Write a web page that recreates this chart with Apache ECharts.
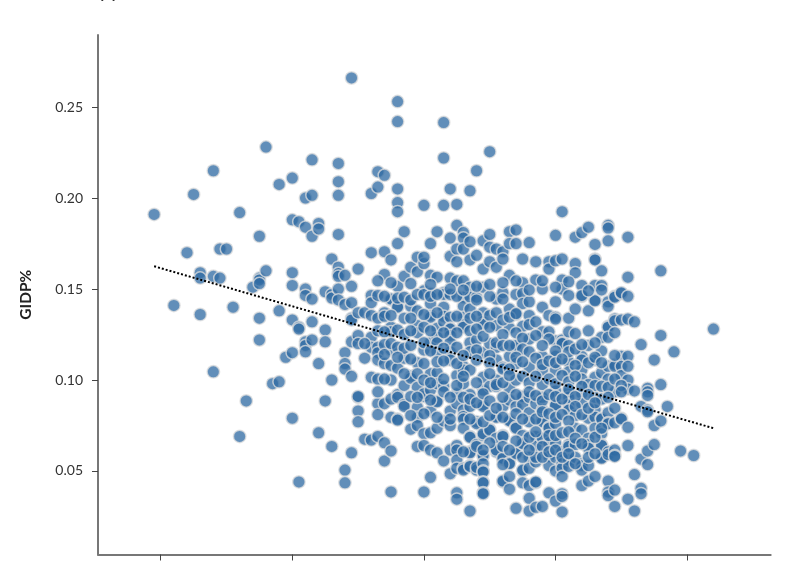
<!DOCTYPE html>
<html><head><meta charset="utf-8">
<style>html,body{margin:0;padding:0;background:#fff}#c{width:800px;height:570px}</style>
<script src="https://cdn.jsdelivr.net/npm/echarts@6/dist/echarts.min.js"></script>
</head><body><div id="c"></div>
<script>
const titleText = 'pp';
const yName = 'GIDP%';
const xTicks = [0,20,40,60,80];
const yTicks = [0.05,0.10,0.15,0.20,0.25];
const trendX = [-1,84];
const trendY = [0.1625,0.0735];
const columnX = [-1,2,4,5,6,8,9,10,11,12,13,14,15,16,17,18,19,20,21,22,23,24,25,26,27,28,29,30,31,32,33,34,35,36,37,38,39,40,41,42,43,44,45,46,47,48,49,50,51,52,53,54,55,56,57,58,59,60,61,62,63,64,65,66,67,68,69,70,71,72,73,74,75,76,77,78,79,81,84];
const columnY = [
[.191],[.141],[.170],[.202],[.159,.156,.136],[.215,.157,.1045],[.172,.156],[.172],[.140],[.192,.069],[.0885],[.151],
[.179,.156,.155,.153,.134,.122],[.228,.160],[.098],[.2075,.138,.099],[.1125],[.211,.188,.159,.152,.133,.115,.079],
[.187,.129,.128,.044],[.200,.184,.150,.1465,.121,.119,.1155],[.221,.2015,.179,.1445,.132,.122],[.186,.183,.109,.071],
[.1485,.1275,.121,.0885],[.1665,.147,.145,.100,.0635],[.219,.209,.2015,.180,.162,.1585,.157,.150,.144],
[.1575,.1415,.115,.109,.106,.0505,.0435],[.266,.1515,.1425,.134,.133,.121,.102,.060],
[.161,.137,.1245,.120,.0905,.091,.083,.077],[.137,.112,.0675],[.2025,.170,.1465,.1425,.1355,.1235,.118,.1015,.067],
[.2145,.206,.1465,.134,.118,.115,.111,.1005,.087,.081,.069],[.2125,.1705,.158,.137,.109,.087,.0655,.0555],
[.166,.144,.1445,.129,.1265,.1165,.100,.0895,.0795,.061,.0385,.108],[.253,.242,.205,.1975,.1925,.175,.1515,.1405,.140,.1065,.092,.0905,.0785,.078],
[.1815,.157,.134,.112,.097,.0865,.0855],[.162,.1405,.102,.101,.073],[.1675,.1595,.138,.130,.126,.1095,.096,.085,.0795,.075,.0635],
[.196,.164,.1675,.149,.1165,.091,.0925,.0705,.064,.0385],[.175,.1575,.1475,.142,.1355,.1345,.1205,.1035,.0945,.083,.071,.0615,.0465],
[.1815,.1565,.1285,.1235,.1205,.1155,.104,.098,.0885,.088,.0735,.060],[.2415,.222,.196,.148,.147,.140,.135,.132,.0965,.0935,.0775,.0555],
[.205,.178,.168,.156,.1345,.1285,.128,.1245,.121,.1155,.111,.083,.075,.0615,.0485],
[.1965,.185,.172,.165,.1545,.1025,.0925,.087,.064,.0615,.056,.0515,.038,.0345],
[.181,.178,.172,.1545,.1455,.1405,.1345,.1305,.129,.1075,.1055,.098,.0835,.080,.0785,.0735,.0515,.0505],
[.204,.176,.166,.151,.1455,.139,.127,.1205,.1155,.1055,.092,.0855,.069,.0685,.0605,.060,.053,.0525,.028],
[.215,.1685,.1455,.122,.077,.076,.0645,.0635,.0505,.052],
[.1765,.161,.151,.137,.132,.1305,.115,.1015,.0945,.0865,.0855,.0695,.0705,.058,.0585,.054,.05,.0495,.044,.0435,.038,.0375],
[.2255,.180,.173,.165,.120,.0965,.073,.0725],[.172,.162,.1445,.130,.118,.1205,.111,.100,.080,.0795,.0965,.068,.0605,.0615],
[.1705,.1665,.148,.107,.106,.0855,.0695,.069,.0565,.057,.044,.0445],[.1815,.175,.1575,.139,.1285,.113,.0955,.089,.078,.0775,.0545,.054,.047,.040],
[.1825,.175,.147,.136,.1175,.119,.109,.100,.0855,.074,.0735,.060,.0595,.0295],[.1665,.1535,.1475,.1295,.142,.0905,.091,.0865,.0695,.0655,.065,.05,.0505,.0435],
[.1755,.143,.1355,.1305,.1225,.107,.0905,.082,.077,.0575,.0515,.042,.035,.028],[.165,.155,.132,.087,.069,.0635,.055,.0575,.0435,.044,.030],
[.150,.140,.1265,.113,.1055,.0975,.0905,.0835,.078,.077,.068,.0305],[.165,.161,.1265,.1355,.074,.0735,.0655,.058,.053,.038],
[.1795,.1655,.143,.1345,.1335,.1215,.113,.1055,.094,.0865,.086,.0655,.0575,.05,.0335,.076],
[.1925,.1665,.155,.150,.122,.1205,.120,.0605,.054,.0515,.047,.0375,.036,.0275],
[.1465,.134,.1265,.119,.110,.0935,.0905,.0865,.0835,.0645,.0565,.056,.0525,.0635],
[.1785,.164,.159,.139,.1255,.0805,.0735,.0645,.0575],[.181,.152,.146,.1465,.113,.111,.1055,.1005,.0925,.087,.0725,.054,.053,.042,.0505],
[.184,.138,.127,.119,.079,.068,.0645,.0625,.053,.0445],[.1745,.1665,.166,.152,.144,.1435,.111,.1015,.0905,.0835,.0795,.0735,.047],
[.160,.152,.1495,.1235,.116,.104,.079,.0785,.0705,.0645,.0575,.057,.064],[.185,.1835,.1765,.143,.1405,.1295,.129,.1235,.1075,.1005,.082,.0765,.076,.0605,.059,.0445,.0385,.0365],
[.146,.1455,.1335,.1325,.126,.1085,.1075,.0935,.0845,.0765,.0615,.0585,.058,.0395,.0305],[.1475,.148,.133,.113,.1075,.1025,.079,.0785],
[.1785,.1565,.146,.1335,.113,.1075,.100,.095,.074,.064,.0345],[.132,.094,.048,.028],[.1195,.0855,.0565,.0405,.0375],
[.0955,.0935,.0915,.0835,.0825,.061,.0535],[.111,.075,.0645],[.160,.1245,.0975,.0775],[.0855],[.1155],[.061],[.0585],[.128]
];
const denseX = [34,36,37,38,39,40,41,42,44,45,48,50,52,
34,35,38,40,42,45,47,48,50,51,52,53,54,
33,34,36,37,38,40,41,43,45,48,49,50,52,54,55,57,59,
31,34,35,36,37,38,40,41,43,45,48,50,52,53,55,56,58,60,62,63,64,66,
34,36,38,40,42,43,45,46,48,50,53,54,55,57,58,59,60,61,62,63,65,66,67,69,
34,37,39,40,41,43,45,46,48,50,51,52,53,55,56,57,59,60,61,62,63,65,66,67,68,69,70,
33,38,39,41,44,46,47,48,49,50,52,54,56,57,58,59,60,61,62,63,64,65,67,68,70,
38,40,42,44,47,49,50,51,52,54,55,57,58,59,60,61,62,63,64,65,66,
50,52,54,56,57,58,59,60,61,62,63,64,66,67,
46,49,52,53,55,56,58,59,60,61,62,63,65,66,
33,35,38,41,44,46,48,50,52,54,56,58,60,62,65];
const denseY = [.146,.145,.1455,.144,.147,.147,.146,.147,.147,.146,.144,.146,.1445,
.135,.1355,.134,.136,.137,.135,.134,.135,.1355,.137,.133,.1345,.1365,
.127,.1265,.1275,.125,.127,.129,.127,.126,.126,.128,.124,.129,.125,.126,.123,.1245,.1225,
.12,.1195,.120,.118,.1175,.119,.1205,.116,.1175,.118,.1165,.1135,.119,.119,.117,.1155,.119,.116,.1155,.117,.1195,.1205,
.114,.1125,.1115,.109,.110,.1105,.109,.1135,.111,.1095,.106,.1125,.110,.112,.1085,.1105,.1095,.1115,.1045,.108,.1095,.1125,.1095,.1135,
.1005,.1035,.1035,.100,.0985,.1005,.097,.102,.0985,.1035,.0975,.0985,.1025,.102,.0985,.102,.1005,.098,.1025,.099,.102,.0975,.097,.0965,.096,.1005,.097,
.0935,.091,.0905,.089,.0905,.0905,.0895,.0875,.0925,.0885,.0905,.092,.0935,.0915,.0885,.092,.091,.0895,.095,.091,.0965,.092,.0895,.0905,.0935,
.0805,.0815,.0795,.0785,.0785,.077,.0805,.0845,.0795,.0815,.0785,.0785,.0825,.0815,.0795,.081,.0775,.0855,.081,.0845,.0875,
.0655,.0635,.0665,.0685,.0715,.0635,.0695,.0695,.071,.0715,.068,.065,.0685,.0735,
.0605,.0615,.0535,.0615,.0575,.0615,.0575,.0605,.0615,.0575,.0595,.054,.0575,.0595,
.1545,.1535,.153,.1525,.150,.1495,.1515,.1525,.1535,.1545,.1495,.1545,.151,.154,.149];
const points = [];
columnX.forEach((x,i)=>columnY[i].forEach(y=>points.push([x,y])));
denseX.forEach((x,i)=>points.push([x,denseY[i]]));
const chart = echarts.init(document.getElementById('c'));
chart.setOption({
  animation:false,
  backgroundColor:'#fff',
  textStyle:{fontFamily:'Lato'},
  title:{text:titleText,left:100,top:-18,padding:0,textStyle:{fontFamily:'Lato',fontSize:20,fontWeight:'normal',color:'#333'}},
  grid:{left:98,right:29.3,top:35,bottom:15.5},
  xAxis:{type:'value',min:-9.53,max:92.7,splitLine:{show:false},
    axisLine:{onZero:false,lineStyle:{color:'#777',width:2}},
    axisTick:{show:true,length:6,customValues:xTicks,lineStyle:{color:'#444',width:1}},
    axisLabel:{show:false}},
  yAxis:{type:'value',min:0.0041,max:0.2896,splitLine:{show:false},
    name:yName,nameLocation:'middle',nameGap:64,
    nameTextStyle:{fontFamily:'Lato',fontSize:15.5,fontWeight:'bold',color:'#222'},
    axisLine:{show:true,onZero:false,lineStyle:{color:'#777',width:2}},
    axisTick:{show:true,length:6,customValues:yTicks,lineStyle:{color:'#444',width:1}},
    axisLabel:{show:true,customValues:yTicks,margin:15,fontFamily:'Lato',fontSize:14,color:'#333',formatter:v=>v.toFixed(2)}},
  series:[
    {type:'scatter',data:points,symbolSize:12.5,silent:true,
      itemStyle:{color:'#2f6aa3',opacity:0.76,borderColor:'#dedede',borderWidth:1.5}},
    {type:'line',data:trendX.map((x,i)=>[x,trendY[i]]),symbol:'none',silent:true,z:5,
      lineStyle:{color:'#000',width:2,type:[2,2]}}
  ]
});
</script></body></html>
